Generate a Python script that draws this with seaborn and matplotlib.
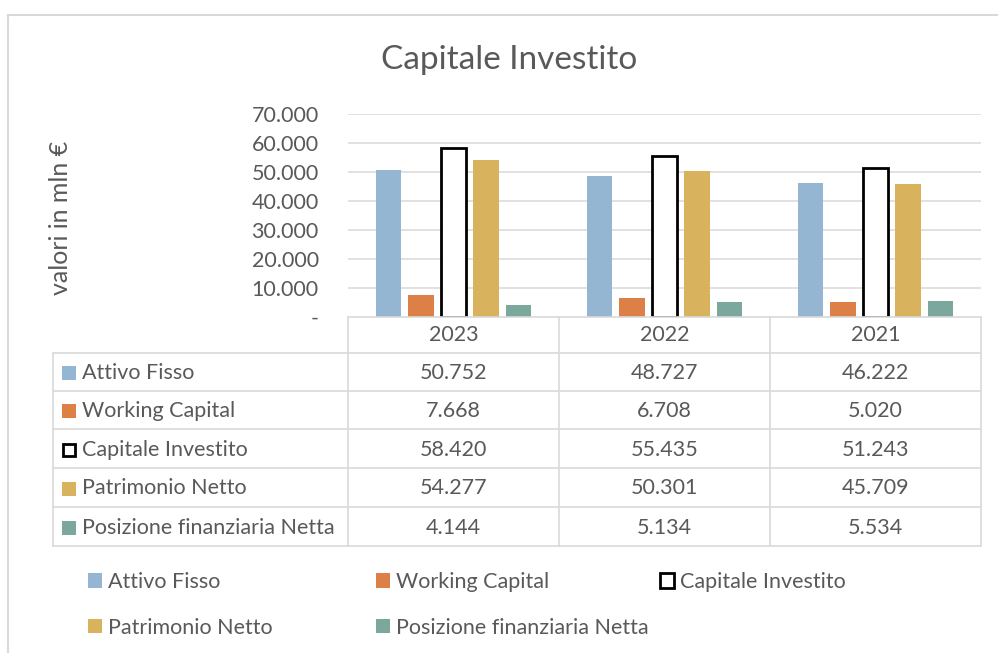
"""
plot.py
Capitale Investito: bar chart with an Excel-style data table underneath.
"""

import pandas as pd
import seaborn as sns
import matplotlib.pyplot as plt
from matplotlib.patches import Rectangle
from matplotlib.transforms import blended_transform_factory

# data
years = ['2023', '2022', '2021']
series = ['Attivo Fisso', 'Working Capital', 'Capitale Investito',
          'Patrimonio Netto', 'Posizione finanziaria Netta']
attivo_fisso = [50752, 48727, 46222]
working_capital = [7668, 6708, 5020]
capitale_investito = [58420, 55435, 51243]
patrimonio_netto = [54277, 50301, 45709]
posizione_fin_netta = [4144, 5134, 5534]
y_ticks = [0, 10000, 20000, 30000, 40000, 50000, 60000, 70000]

colors = ['#94b6d2', '#dd8047', '#ffffff', '#d8b25c', '#7ba79d']
TXT = '#595959'
GRID = '#d9d9d9'
FS = 15.5
W, H = 998, 653


def fmt(v):
    return '-' if v == 0 else f'{v:,}'.replace(',', '.')


def fx(px):
    return px / W


def fy(py):
    return 1 - py / H


values = [attivo_fisso, working_capital, capitale_investito,
          patrimonio_netto, posizione_fin_netta]
df = pd.DataFrame([
    {'anno': y, 'serie': s, 'valore': v[i]}
    for s, v in zip(series, values) for i, y in enumerate(years)
])

sns.set_theme(style='white')
plt.rcParams['font.family'] = ['Lato', 'DejaVu Sans']

fig = plt.figure(figsize=(W / 100, H / 100), dpi=100)
ax = fig.add_axes([fx(348), fy(317), fx(981) - fx(348), fy(114) - fy(317)])

sns.barplot(data=df, x='anno', y='valore', hue='serie', order=years,
            hue_order=series, palette=colors, saturation=1, width=0.77,
            gap=0.22, linewidth=0, ax=ax, legend=False)

# Capitale Investito drawn as an outline only
for bar in ax.containers[2]:
    bar.set_facecolor('white')
    bar.set_edgecolor('black')
    bar.set_linewidth(2)

ax.set_xlim(-0.5, len(years) - 0.5)
ax.set_ylim(0, 70000)
ax.set_yticks(y_ticks)
ax.set_yticklabels([fmt(t) for t in y_ticks], color=TXT, fontsize=FS)
ax.tick_params(axis='y', length=0, pad=21)
ax.tick_params(axis='x', length=0, pad=6, labelsize=FS, labelcolor=TXT)
ax.set_xlabel('')
ax.set_ylabel('')
for t in y_ticks[1:]:
    ax.axhline(t, color=GRID, lw=1.1, zorder=0)
for sp in ax.spines.values():
    sp.set_visible(False)

fig.text(fx(509), fy(60), 'Capitale Investito', ha='center', va='center',
         fontsize=24, color=TXT)
fig.text(fx(60), fy(218), 'valori in mln €', ha='center', va='center',
         rotation=90, fontsize=18, color=TXT)

# data table
tb = blended_transform_factory(ax.transData, fig.transFigure)
row_y = [353, 391, 429, 468, 507, 546]
line_kw = dict(color=GRID, lw=1.2, clip_on=False)
for k in range(len(years) + 1):
    ax.plot([k - 0.5, k - 0.5], [fy(317), fy(546)], transform=tb, **line_kw)
fig.add_artist(plt.Line2D([fx(348), fx(981)], [fy(317), fy(317)], **line_kw))
for py in row_y:
    fig.add_artist(plt.Line2D([fx(53), fx(981)], [fy(py), fy(py)], **line_kw))
fig.add_artist(plt.Line2D([fx(53), fx(53)], [fy(353), fy(546)], **line_kw))

for r, (s, v, c) in enumerate(zip(series, values, colors)):
    yc = (row_y[r] + row_y[r + 1]) / 2 + 1
    if s == 'Capitale Investito':
        sq = Rectangle((fx(63), fy(yc + 6)), fx(12), fy(0) - fy(12),
                       facecolor='white', edgecolor='black', lw=2,
                       transform=fig.transFigure)
    else:
        sq = Rectangle((fx(62), fy(yc + 7)), fx(14), fy(0) - fy(14),
                       facecolor=c, lw=0, transform=fig.transFigure)
    fig.add_artist(sq)
    fig.text(fx(82), fy(yc), s, ha='left', va='center', fontsize=FS, color=TXT)
    for i in range(len(years)):
        ax.text(i, fy(yc), fmt(v[i]), ha='center', va='center', fontsize=FS,
                color=TXT, transform=tb)

# legend below the table, one column at a time
handles = [ax.containers[i].patches[0] for i in range(len(series))]
legend_cols = [[0, 3], [1, 4], [2]]
col_x = [88, 376, 660]
for idx, x0 in zip(legend_cols, col_x):
    leg = fig.legend([handles[i] for i in idx], [series[i] for i in idx],
                     loc='upper left', bbox_to_anchor=(fx(x0), fy(572)),
                     frameon=False, fontsize=FS, labelcolor=TXT,
                     handlelength=0.65, handleheight=0.65, handletextpad=0.3,
                     labelspacing=1.2, borderaxespad=0, borderpad=0)

# outer chart frame
fig.add_artist(Rectangle((fx(8), fy(700)), fx(1100), fy(15) - fy(700),
                         facecolor='none', edgecolor=GRID, lw=1.5,
                         transform=fig.transFigure))

fig.savefig('out.png', dpi=100)
